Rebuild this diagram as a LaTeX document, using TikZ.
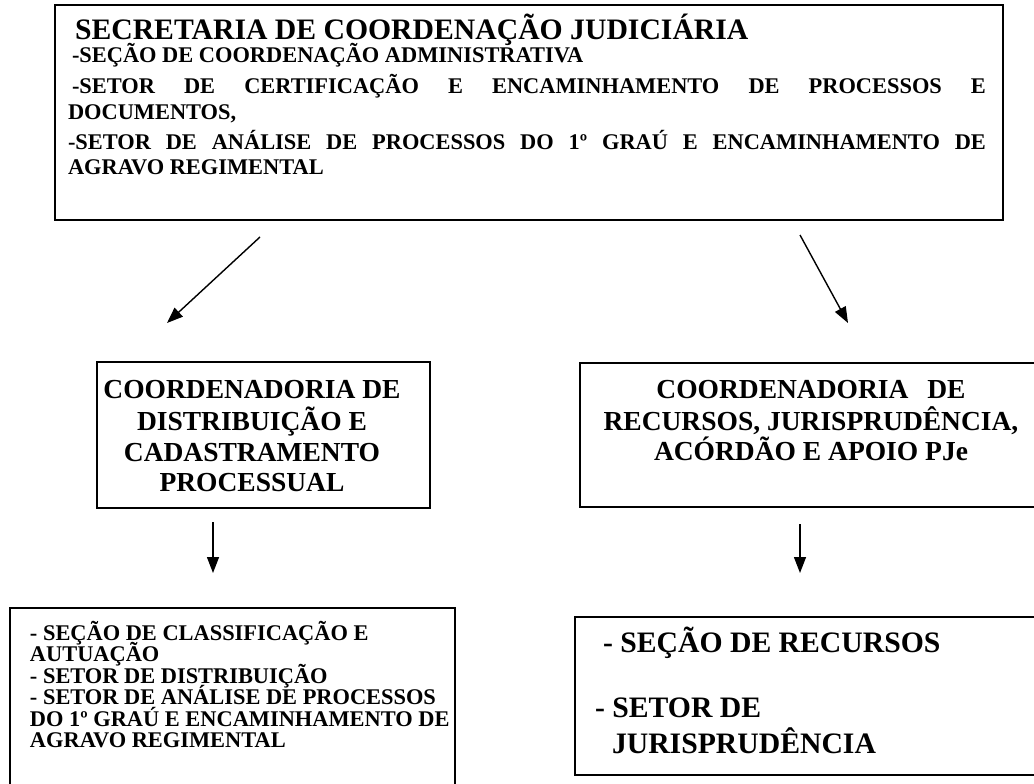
\documentclass[tikz,border=0pt]{standalone}
\usepackage{fontspec}
\setmainfont{Liberation Serif}
\usetikzlibrary{arrows.meta}
\begin{document}
\begin{tikzpicture}[x=1pt,y=-1pt,
  box/.style={draw,line width=1.8pt,inner sep=0pt,outer sep=0pt,anchor=north west},
  ln/.style={inner sep=0pt,outer sep=0pt,anchor=base west,font=\bfseries},
  cln/.style={inner sep=0pt,outer sep=0pt,anchor=base,font=\bfseries\fontsize{27.5}{31}\selectfont},
  sub/.style={ln,font=\bfseries\fontsize{22.4}{26}\selectfont},
  big/.style={ln,font=\bfseries\fontsize{29.7}{31}\selectfont},
  arr/.style={-{Triangle[length=16pt,width=12pt]},line width=1.4pt}]
\useasboundingbox (0,0) rectangle (1034,784);
\clip (0,0) rectangle (1034,784);
% boxes
\node[box,minimum width=948pt,minimum height=215pt] (top) at (55,5) {};
\node[box,minimum width=333pt,minimum height=146pt] (midL) at (97,362) {};
\node[box,minimum width=460pt,minimum height=144pt] (midR) at (580,363) {};
\node[box,minimum width=445pt,minimum height=200pt] (botL) at (10,608) {};
\node[box,minimum width=460pt,minimum height=158pt] (botR) at (575,617) {};
% top text
\node[big] (t1) at (75,40) {SECRETARIA DE COORDENAÇÃO JUDICIÁRIA};
\node[sub] (t2) at (72,63) {-SEÇÃO DE COORDENAÇÃO ADMINISTRATIVA};
\node[sub] (t3) at (72,94) {\makebox[914pt][s]{-SETOR DE CERTIFICAÇÃO E ENCAMINHAMENTO DE PROCESSOS E}};
\node[sub] (t4) at (68,120) {DOCUMENTOS,};
\node[sub] (t5) at (68,149) {\makebox[918pt][s]{-SETOR DE ANÁLISE DE PROCESSOS DO 1º GRAÚ E ENCAMINHAMENTO DE}};
\node[sub] (t6) at (68,174) {AGRAVO REGIMENTAL};
% middle left text
\node[cln] (l1) at (252,398) {COORDENADORIA DE};
\node[cln] (l2) at (252,430) {DISTRIBUIÇÃO E};
\node[cln] (l3) at (252,461) {CADASTRAMENTO};
\node[cln] (l4) at (252,491) {PROCESSUAL};
% middle right text
\node[cln] (r1) at (811,398) {COORDENADORIA\hspace{12pt} DE};
\node[cln] (r2) at (811,430) {RECURSOS, JURISPRUDÊNCIA,};
\node[cln] (r3) at (811,460) {ACÓRDÃO E APOIO PJe};
% bottom left text
\node[sub] (b1) at (30,640) {- SEÇÃO DE CLASSIFICAÇÃO E};
\node[sub] (b2) at (30,661.5) {AUTUAÇÃO};
\node[sub] (b3) at (30,683) {- SETOR DE DISTRIBUIÇÃO};
\node[sub] (b4) at (30,704.5) {- SETOR DE ANÁLISE DE PROCESSOS};
\node[sub] (b5) at (30,726) {DO 1º GRAÚ E ENCAMINHAMENTO DE};
\node[sub] (b6) at (30,747.5) {AGRAVO REGIMENTAL};
% bottom right text
\node[big] (c1) at (603,652) {- SEÇÃO DE RECURSOS};
\node[big] (c2) at (595,717) {- SETOR DE};
\node[big] (c3) at (612,753) {JURISPRUDÊNCIA};
% arrows
\coordinate (a1s) at (260,237); \coordinate (a1e) at (167,323);
\coordinate (a2s) at (800,235); \coordinate (a2e) at (848,323);
\coordinate (a3s) at (213,522); \coordinate (a3e) at (213,573);
\coordinate (a4s) at (800,524); \coordinate (a4e) at (800,573);
\draw[arr] (a1s) -- (a1e);
\draw[arr] (a2s) -- (a2e);
\draw[arr] (a3s) -- (a3e);
\draw[arr] (a4s) -- (a4e);
\end{tikzpicture}
\end{document}
